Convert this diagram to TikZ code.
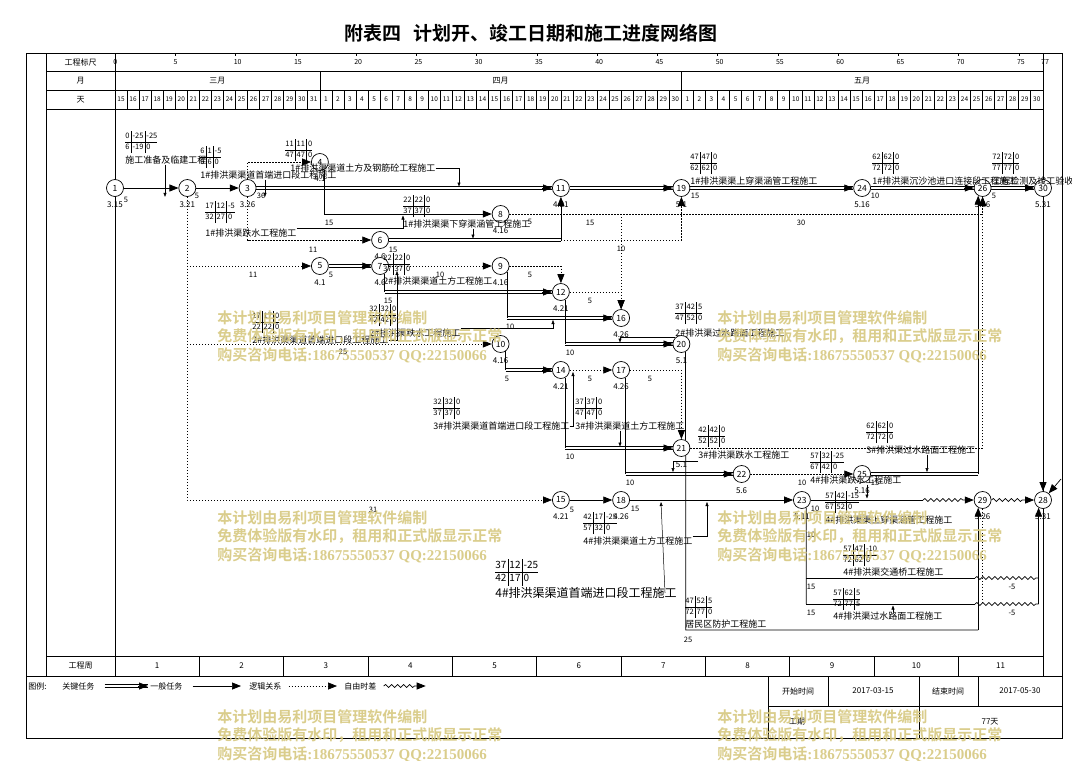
\documentclass[tikz,border=0pt]{standalone}
\usepackage{fontspec}
\setmainfont{Noto Sans CJK SC}[BoldFont={Noto Sans CJK SC Bold}]
\newfontfamily\wmlatin{Liberation Serif}
\usetikzlibrary{arrows.meta,decorations.pathmorphing}
\definecolor{wmcol}{RGB}{214,200,128}
\setlength{\tabcolsep}{1.5pt}
\setlength{\arrayrulewidth}{0.5pt}
\renewcommand{\arraystretch}{1.12}
% 时间参数表
\newcommand{\tb}[8]{\node[tab] (#1) at (#2) {\begin{tabular}{@{}l|l|l@{}}#3&#4&#5\\\hline #6&#7&#8\end{tabular}};}
% 事件节点及日期
\newcommand{\ev}[3]{\node[ev] (n#1) at (#2) {#1};
  \node[dt] (d#1) at ([yshift=-17pt]n#1.center) {#3};}
% 关键工作(双线)
\newcommand{\kline}[2]{\draw[transform canvas={yshift=1.2pt}] (#1) -- (#2);
  \draw[transform canvas={yshift=-1.2pt}] (#1) -- (#2);}
% 关键工作(双线+箭头)
\newcommand{\kto}[2]{\kline{#1}{#2.west}
  \draw[genln] ([xshift=-9.6pt]#2.west) -- (#2.west);}
% 水印
\newcommand{\wm}[2]{\node[wm] (#1) at (#2) {本计划由易利项目管理软件编制\\免费体验版有水印，租用和正式版显示正常\\购买咨询电话{\wmlatin\bfseries :18675550537 QQ:22150066}};}

\begin{document}
\begin{tikzpicture}[x=1pt, y=-1pt, line width=0.7pt,
  >={Triangle[length=9pt,width=7pt]},
  ev/.style={circle, draw, fill=white, minimum size=17pt, inner sep=0pt, font=\fontsize{8.5}{9}\selectfont},
  dt/.style={inner sep=0pt, font=\fontsize{8}{9}\selectfont},
  dur/.style={inner sep=0pt, font=\fontsize{7.5}{8}\selectfont},
  tab/.style={anchor=north west, inner sep=0pt, font=\fontsize{7.5}{9.5}\selectfont},
  lbl/.style={anchor=west, inner sep=0pt, font=\fontsize{9}{10}\selectfont},
  hd/.style={inner sep=0pt, font=\fontsize{8}{9}\selectfont},
  daynum/.style={inner sep=0pt, font=\fontsize{6.5}{7}\selectfont},
  genln/.style={->},
  logln/.style={dash pattern=on 1.3pt off 1.7pt, ->},
  logplain/.style={dash pattern=on 1.3pt off 1.7pt},
  freeln/.style={decorate, decoration={snake, segment length=6pt, amplitude=1.5pt, post length=9pt}, ->},
  freeplain/.style={decorate, decoration={snake, segment length=6pt, amplitude=1.5pt}},
  lab/.style={line width=0.5pt, -{Triangle[length=4pt,width=3pt]}},
  wm/.style={anchor=north west, inner sep=0pt, align=left, text=wmcol, opacity=0.9, font=\fontsize{15}{18.5}\selectfont\bfseries}]
  \useasboundingbox (0,0) rectangle (1072,761);
  \node[font=\fontsize{19}{20}\selectfont\bfseries] (title) at (531,33) {附表四\hspace{0.6em}计划开、竣工日期和施工进度网络图};

  % 外框与表头
  \draw (26,53) rectangle (1062,738);
  \draw (46,53) -- (46,676) (115,53) -- (115,676) (1043,53) -- (1043,676);
  \foreach \y in {71.5,90,109,656} \draw (46,\y) -- (1043,\y);
  \draw (26,676) -- (1062,676);
  \node[hd] (h1) at (80.5,62) {工程标尺};
  \node[hd] (h2) at (80.5,81) {月};
  \node[hd] (h3) at (80.5,99.5) {天};
  \foreach \k in {0,5,...,75,77} {
    \draw[line width=0.5pt] ({115+12.05*\k},53) -- ++(0,3);
    \node[daynum, anchor=west, font=\fontsize{7}{8}\selectfont] (k\k) at ({113+12.05*\k},62) {\k};
  }
  \draw (319.85,71.5) -- (319.85,90) (681.4,71.5) -- (681.4,90);
  \node[hd] (m3) at (217.4,81) {三月};
  \node[hd] (m4) at (500.6,81) {四月};
  \node[hd] (m5) at (862.2,81) {五月};
  \foreach \d [count=\i from 0] in {15,...,31} {
    \node[daynum] (da\i) at ({115+12.05*(\i+0.5)},99.5) {\d};
    \draw ({115+12.05*\i},90) -- ++(0,19);
  }
  \foreach \d [count=\i from 17] in {1,...,30} {
    \node[daynum] (da\i) at ({115+12.05*(\i+0.5)},99.5) {\d};
    \draw ({115+12.05*\i},90) -- ++(0,19);
  }
  \foreach \d [count=\i from 47] in {1,...,30} {
    \node[daynum] (da\i) at ({115+12.05*(\i+0.5)},99.5) {\d};
    \draw ({115+12.05*\i},90) -- ++(0,19);
  }
  % 工程周
  \node[hd] (h4) at (80.5,666) {工程周};
  \foreach \w in {1,...,11} \node[hd] (wk\w) at ({115+84.35*(\w-0.5)},666) {\w};
  \foreach \w in {1,...,10} \draw ({115+84.35*\w},656) -- ++(0,20);

  % 图例
  \node[hd, anchor=west] (lg0) at (28,686) {图例:};
  \node[hd, anchor=west] (lg1) at (62,686) {关键任务};
  \node[hd, anchor=west] (lg2) at (150,686) {一般任务};
  \node[hd, anchor=west] (lg3) at (249,686) {逻辑关系};
  \node[hd, anchor=west] (lg4) at (344,686) {自由时差};
  \kline{[xshift=10pt]lg1.east}{[xshift=-2pt]lg2.west}
  \draw[genln] ([xshift=-11.6pt]lg2.west) -- ([xshift=-2pt]lg2.west);
  \draw[genln] ([xshift=10pt]lg2.east) -- ([xshift=-8pt]lg3.west);
  \draw[logln] ([xshift=7pt]lg3.east) -- ([xshift=-7pt]lg4.west);
  \draw[freeln] ([xshift=7pt]lg4.east) -- ++(42,0);
  \draw (768,676) -- (768,738) (828,676) -- (828,706) (919,676) -- (919,738) (978,676) -- (978,706);
  \draw (768,706) -- (1062,706);
  \node[hd] (f1) at (798,691) {开始时间};
  \node[hd] (f2) at (873,691) {2017-03-15};
  \node[hd] (f3) at (948,691) {结束时间};
  \node[hd] (f4) at (1020,691) {2017-05-30};
  \node[hd] (f5) at (797,722) {工期};
  \node[hd] (f6) at (990,722) {77天};

  % 事件节点
  \ev{1}{115,188}{3.15}
  \ev{2}{187.3,188}{3.21}
  \ev{3}{247.6,188}{3.26}
  \ev{4}{319.9,162}{4.1}
  \ev{5}{319.9,266}{4.1}
  \ev{6}{380.1,240}{4.6}
  \ev{7}{380.1,266}{4.6}
  \ev{8}{500.6,214}{4.16}
  \ev{9}{500.6,266}{4.16}
  \ev{10}{500.6,344}{4.16}
  \ev{11}{560.9,188}{4.21}
  \ev{12}{560.9,292}{4.21}
  \ev{14}{560.9,370}{4.21}
  \ev{15}{560.9,500}{4.21}
  \ev{16}{621.1,318}{4.26}
  \ev{17}{621.1,370}{4.26}
  \ev{18}{621.1,500}{4.26}
  \ev{19}{681.4,188}{5.1}
  \ev{20}{681.4,344}{5.1}
  \ev{21}{681.4,448}{5.1}
  \ev{22}{741.6,474}{5.6}
  \ev{23}{801.9,500}{5.11}
  \ev{24}{862.1,188}{5.16}
  \ev{25}{862.1,474}{5.16}
  \ev{26}{982.6,188}{5.26}
  \ev{29}{982.6,500}{5.26}
  \ev{28}{1043,500}{5.31}
  \ev{30}{1043,188}{5.31}

  % 关键线路
  \kto{n3}{n11}
  \kto{n11}{n19}
  \kto{n19}{n24}
  \kto{n24}{n26}
  \kto{n26}{n30}
  \kto{n5}{n7}
  \kline{n6}{n6 -| n11}
  \draw[genln] (n6 -| n11) -- (n11);
  \draw (n7.-60) -- (n7.-60 |- n12);
  \kto{n7.-60 |- n12}{n12}
  \draw (n9.-45) -- (n9.-45 |- n16);
  \kto{n9.-45 |- n16}{n16}
  \draw (n12.-60) -- (n12.-60 |- n20);
  \kto{n12.-60 |- n20}{n20}
  \draw (n10.-55) -- (n10.-55 |- n14);
  \kto{n10.-55 |- n14}{n14}
  \draw (n14.-60) -- (n14.-60 |- n21);
  \kto{n14.-60 |- n21}{n21}
  \draw (n17.-60) -- (n17.-60 |- n22);
  \kto{n17.-60 |- n22}{n22}
  \kline{n25}{n25 -| n26.-120}
  \draw[genln] (n25 -| n26.-120) -- (n26.-120);

  % 一般任务
  \draw[genln] (n1) -- (n2);
  \draw[genln] (n2) -- (n3);
  \draw[genln] (n4.-60) |- (n8);
  \draw[genln] (n15) -- (n18);
  \draw[genln] (n18) -- (n23);
  \draw[genln] (n30) -- (n28);
  \coordinate (q28) at (1061,479);
  \draw[genln] (q28) -- (n28);
  \coordinate (w1) at (923,500);
  \draw (n23) -- (w1);
  \draw[freeln] (w1) -- (n29);
  \draw[freeln] (n29) -- (n28);
  % 23 以后分支
  \coordinate (b1) at (806.2,578);
  \coordinate (b2) at (806.2,604);
  \coordinate (w2) at (975,578);
  \coordinate (w3) at (975,604);
  \draw (n23.-60) -- (b2);
  \draw (b1) -- (w2);
  \draw (b2) -- (w3);
  \draw[freeplain] (w2) -- (n28.-120 |- b1);
  \draw[freeplain] (w3) -- (n28.-120 |- b2);
  \draw[genln] (n28.-120 |- b2) -- (n28.-120);
  \draw[logplain] (n29) -- (n29 |- b2);
  % 居民区防护
  \coordinate (r1) at (685.65,630);
  \draw (n20.-60) -- (n21.60);
  \draw (n21.-60) -- (r1) -- (r1 -| n29.-120);
  \draw[genln] (r1 -| n29.-120) -- (n29.-120);

  % 逻辑关系
  \draw[logln] (n3) |- (n4);
  \draw[logln] (n3) |- (n6);
  \draw[logln] (n2) |- (n5);
  \draw[logln] (n2) |- (n10);
  \draw[logln] (n2) |- (n15);
  \draw[logln] (n7) -- (n9);
  \draw[logln] (n9) -| (n12);
  \draw[logln] (n8) -| (n26);
  \draw[logln] (n8 -| n16) -- (n16);
  \draw[logln] (n12) -| (n16);
  \draw[logln] (n6 -| n11) -| (n19);
  \draw[logln] (n14) -- (n17);
  \draw[logln] (n17) -| (n21);
  \draw[logln] (n21) -| (n26);
  \draw[logln] (n22) -- (n25);

  % 时间参数
  \tb{t1}{125,131}{0}{-25}{-25}{6}{-19}{0}
  \tb{t2}{200,146}{6}{1}{-5}{6}{6}{0}
  \tb{t3}{205,201}{17}{12}{-5}{32}{27}{0}
  \tb{t4}{285,139}{11}{11}{0}{47}{47}{0}
  \tb{t5}{403,195}{22}{22}{0}{37}{37}{0}
  \tb{t6}{690,152}{47}{47}{0}{62}{62}{0}
  \tb{t7}{872,152}{62}{62}{0}{72}{72}{0}
  \tb{t8}{992,152}{72}{72}{0}{77}{77}{0}
  \tb{t9}{252,311}{17}{17}{0}{22}{22}{0}
  \tb{t10}{383,253}{22}{22}{0}{37}{37}{0}
  \tb{t11}{369,304}{32}{32}{0}{42}{42}{0}
  \tb{t12}{675,302}{37}{42}{5}{47}{52}{0}
  \tb{t13}{433,397}{32}{32}{0}{37}{37}{0}
  \tb{t14}{575,397}{37}{37}{0}{47}{47}{0}
  \tb{t15}{698,425}{42}{42}{0}{52}{52}{0}
  \tb{t16}{866,421}{62}{62}{0}{72}{72}{0}
  \tb{t17}{810,451}{57}{32}{-25}{67}{42}{0}
  \tb{t18}{583,512}{42}{17}{-25}{57}{32}{0}
  \node[tab, font=\fontsize{10}{11.5}\selectfont] (t19) at (495,559) {\begin{tabular}{@{}l|l|l@{}}37&12&-25\\\hline 42&17&0\end{tabular}};
  \tb{t20}{825,491}{57}{42}{-15}{67}{52}{0}
  \tb{t21}{843,544}{57}{47}{-10}{72}{62}{0}
  \tb{t22}{833,588}{57}{62}{5}{72}{77}{5}
  \tb{t23}{685,596}{47}{52}{5}{72}{77}{0}

  % 工作名称
  \node[lbl] (l1) at (125,160) {施工准备及临建工程};
  \node[lbl] (l2) at (200,175) {1\#排洪渠渠道首端进口段工程施工};
  \node[lbl] (l3) at (205,233) {1\#排洪渠跌水工程施工};
  \node[lbl] (l4) at (290,168) {1\#排洪渠渠道土方及钢筋砼工程施工};
  \node[lbl] (l5) at (403,224) {1\#排洪渠渠下穿渠涵管工程施工};
  \node[lbl] (l6) at (690,181) {1\#排洪渠渠上穿渠涵管工程施工};
  \node[lbl] (l7) at (872,181) {1\#排洪渠沉沙池进口连接段工程施工};
  \node[lbl] (l8) at (992,181) {工程检测及竣工验收};
  \node[lbl] (l9) at (252,340) {2\#排洪渠渠道首端进口段工程施工};
  \node[lbl] (l10) at (383,281) {2\#排洪渠渠道土方工程施工};
  \node[lbl] (l11) at (369,333) {2\#排洪渠跌水工程施工};
  \node[lbl] (l12) at (675,333) {2\#排洪渠过水路面工程施工};
  \node[lbl] (l13) at (433,426) {3\#排洪渠渠道首端进口段工程施工};
  \node[lbl] (l14) at (575,426) {3\#排洪渠渠道土方工程施工};
  \node[lbl] (l15) at (698,455) {3\#排洪渠跌水工程施工};
  \node[lbl] (l16) at (866,450) {3\#排洪渠过水路面工程施工};
  \node[lbl] (l17) at (810,480) {4\#排洪渠跌水工程施工};
  \node[lbl] (l18) at (583,541) {4\#排洪渠渠道土方工程施工};
  \node[lbl, font=\fontsize{12}{13}\selectfont] (l19) at (495,593) {4\#排洪渠渠道首端进口段工程施工};
  \node[lbl] (l20) at (825,520) {4\#排洪渠渠上穿渠涵管工程施工};
  \node[lbl] (l21) at (843,572) {4\#排洪渠交通桥工程施工};
  \node[lbl] (l22) at (833,616) {4\#排洪渠过水路面工程施工};
  \node[lbl] (l23) at (685,624) {居民区防护工程施工};

  % 名称引线
  \coordinate (p4) at (459,186.5);
  \coordinate (p5) at (473,238.5);
  \coordinate (p9) at (397,271);
  \coordinate (p11) at (553,320);
  \coordinate (p12) at (620,342.5);
  \coordinate (p13) at (573,372);
  \coordinate (p14) at (620,446.5);
  \coordinate (p15) at (673,472);
  \coordinate (p16) at (927,472);
  \coordinate (p17) at (867,498.5);
  \coordinate (p18) at (707,502);
  \coordinate (p19) at (661,502);
  \coordinate (p22) at (893,605.5);
  \draw[lab] ([xshift=40pt]l1.south west) -- ([xshift=40pt]l1.south west |- n1.south);
  \draw[lab] ([xshift=65pt]l2.south west) -- ([xshift=65pt]l2.south west |- n3.south);
  \draw[lab] (l3.north east) -| ([yshift=-1.5pt]t5.west |- n8);
  \draw[lab] (l4.east) -| (p4);
  \draw[lab] (l5.south -| p5) -- (p5);
  \draw[lab] (l9.east) -| (p9);
  \draw[lab] (l11.north east) -| (p11);
  \draw[lab] ([yshift=-4pt]l12.west) -| (p12);
  \draw[lab] (l13.east) -| (p13);
  \draw[lab] (l14.south -| p14) -- (p14);
  \draw[lab] ([yshift=-6pt]l15.west) -| (p15);
  \draw[lab] (l16.south -| p16) -- (p16);
  \draw[lab] (l17.south -| p17) -- (p17);
  \draw[lab] (l18.north east) -| (p18);
  \draw[lab] ([xshift=-12pt]l19.east) -- (p19);
  \draw[lab] (l22.north -| p22) -- (p22);

  % 持续时间
  \foreach \x/\y/\t [count=\i] in {126/200/5, 197/196/5, 261/196/36, 329/223/15, 313/250/11,
      253/275/11, 331/275/5, 393/250/15, 440/275/10, 530/275/5, 530/222/5, 590/223/15,
      621/249/10, 801/223/30, 695/196/15, 875/196/10, 994/196/5, 388/301/15, 590/301/5,
      510/327/10, 570/353/10, 343/352/25, 507/379/5, 590/379/5, 650/379/5, 570/457/10,
      630/483/10, 802/483/10, 373/510/31, 572/510/5, 635/509/15, 875/483/15, 815/509/10,
      811/535/10, 811/587/15, 811/613/15, 1012/587/-5, 1012/613/-5, 688/640/25}
    \node[dur] (s\i) at (\x,\y) {\t};

  % 水印
  \wm{wm1}{217,310}
  \wm{wm2}{717,310}
  \wm{wm3}{217,510}
  \wm{wm4}{717,510}
  \wm{wm5}{217,709}
  \wm{wm6}{717,709}
\end{tikzpicture}
\end{document}
